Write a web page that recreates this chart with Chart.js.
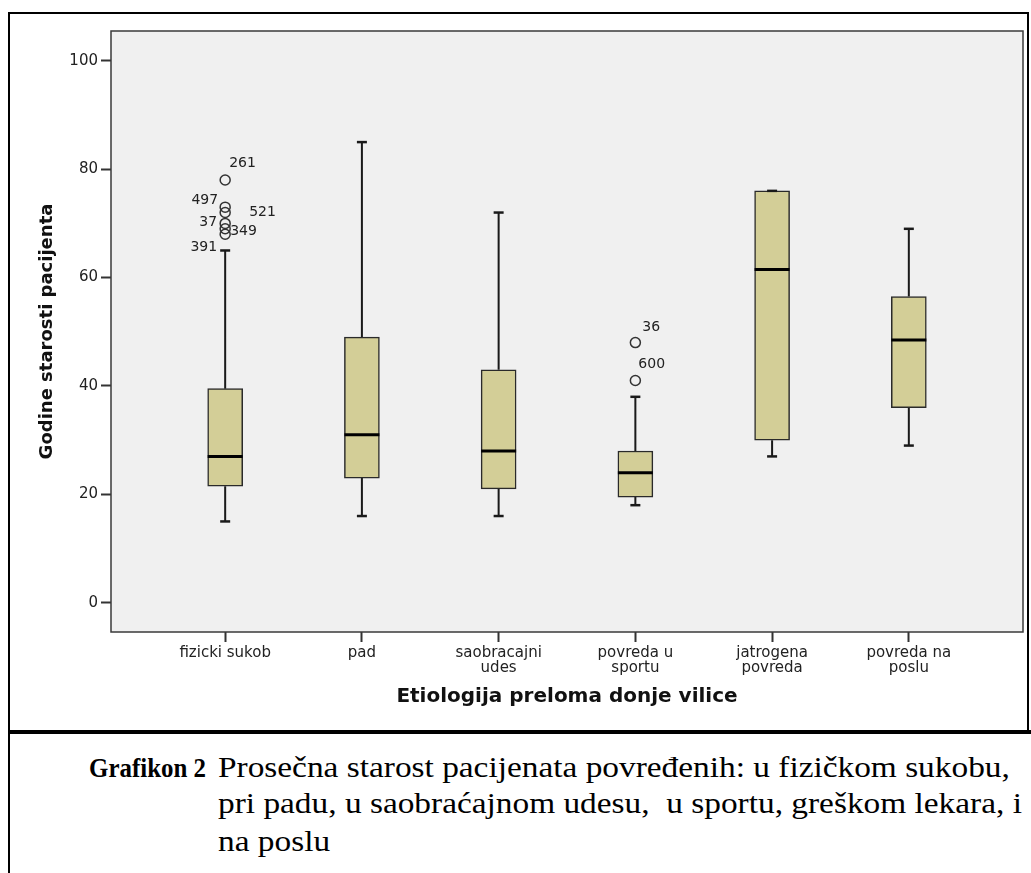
<!DOCTYPE html>
<html>
<head>
<meta charset="utf-8">
<script src="https://cdn.jsdelivr.net/npm/chart.js@4.4.1/dist/chart.umd.min.js"></script>
<style>
  body { margin: 0; background: #fff; }
  #wrap { position: relative; width: 1031px; height: 873px; overflow: hidden; }
  #frame { position: absolute; left: 8px; top: 12px; width: 1021px; height: 722px; box-sizing: border-box;
           border: 2px solid #000; border-bottom: 4px solid #000; }
  #frameLow { position: absolute; left: 8px; top: 734px; width: 2px; height: 139px; background: #000; }
  #lineRight { position: absolute; left: 1027px; top: 730px; width: 4px; height: 4px; background: #000; }
  canvas { position: absolute; left: 0; top: 0; }
  .cap { position: absolute; font-family: "Liberation Serif", "Times New Roman", serif; font-size: 29px;
         color: #000; white-space: nowrap; line-height: 1; transform: scaleX(1.15); transform-origin: 0 50%; }
  .cap.lead { font-size: 28px; font-weight: bold; transform: scaleX(0.89); }
</style>
</head>
<body>
<div id="wrap">
  <div id="frame"></div>
  <div id="frameLow"></div>
  <div id="lineRight"></div>
  <canvas id="boxChart" width="1031" height="730"></canvas>
  <div class="cap lead" style="left:89px; top:754px;">Grafikon 2</div>
  <div class="cap" style="left:218px; top:753px;">Prosečna starost pacijenata povređenih: u fizičkom sukobu,</div>
  <div class="cap" style="left:218px; top:789px;">pri padu, u saobraćajnom udesu,&nbsp; u sportu, greškom lekara, i</div>
  <div class="cap" style="left:218px; top:827px;">na poslu</div>
</div>
<script>
// categories and box statistics
const categories = ['fizicki sukob', 'pad', ['saobracajni', 'udes'], ['povreda u', 'sportu'], ['jatrogena', 'povreda'], ['povreda na', 'poslu']];
const whiskerLow = [15, 16, 16, 18, 27, 29];
const q1 = [21.5, 23, 21, 19.5, 30, 36];
const median = [27, 31, 28, 24, 61.5, 48.5];
const q3 = [39.5, 49, 43, 28, 76, 56.5];
const whiskerHigh = [65, 85, 72, 38, 76, 69];

// outliers: group number (1-based), value, case id
const outlierGroup = [1, 1, 1, 1, 1, 1, 4, 4];
const outlierValue = [78, 73, 72, 70, 69, 68, 48, 41];
const outlierId = ['261', '497', '521', '37', '349', '391', '36', '600'];

const yTicks = [0, 20, 40, 60, 80, 100];

// label placement next to each outlier circle (same order as outlierId)
const labelPos = [
  { dx: 4, dy: -17, align: 'left' },
  { dx: -7, dy: -7, align: 'right' },
  { dx: 24, dy: 0, align: 'left' },
  { dx: -8, dy: -1, align: 'right' },
  { dx: 5, dy: 3, align: 'left' },
  { dx: -8, dy: 13, align: 'right' },
  { dx: 7, dy: -15, align: 'left' },
  { dx: 3, dy: -16, align: 'left' }
];

const boxData = q1.map((v, i) => ({ x: i + 1, y: [v, q3[i]] }));
const medianData = median.map((v, i) => ({ x: i + 1, y: v }));
const capData = whiskerLow.map((v, i) => ({ x: i + 1, y: v }))
  .concat(whiskerHigh.map((v, i) => ({ x: i + 1, y: v })));
const whiskerData = [];
whiskerLow.forEach((v, i) => {
  whiskerData.push({ x: i + 1, y: v }, { x: i + 1, y: q1[i] }, { x: i + 1, y: null },
                   { x: i + 1, y: q3[i] }, { x: i + 1, y: whiskerHigh[i] }, { x: i + 1, y: null });
});
const outlierData = outlierValue.map((v, i) => ({ x: outlierGroup[i], y: v }));

const plotFrame = {
  id: 'plotFrame',
  beforeDatasetsDraw(chart) {
    const { ctx, chartArea: a } = chart;
    ctx.save();
    ctx.fillStyle = '#f0f0f0';
    ctx.fillRect(a.left, a.top, a.right - a.left, a.bottom - a.top);
    ctx.restore();
  },
  afterDatasetsDraw(chart) {
    const { ctx, chartArea: a } = chart;
    ctx.save();
    ctx.strokeStyle = '#3a3a3a';
    ctx.lineWidth = 1.5;
    ctx.strokeRect(a.left, a.top, a.right - a.left, a.bottom - a.top);
    ctx.restore();
  }
};

const outlierLabels = {
  id: 'outlierLabels',
  afterDatasetsDraw(chart) {
    const meta = chart.getDatasetMeta(4);
    const ctx = chart.ctx;
    ctx.save();
    ctx.font = '14px "DejaVu Sans"';
    ctx.fillStyle = '#222';
    ctx.textBaseline = 'middle';
    meta.data.forEach((pt, i) => {
      const p = labelPos[i];
      ctx.textAlign = p.align;
      ctx.fillText(outlierId[i], pt.x + p.dx, pt.y + p.dy);
    });
    ctx.restore();
  }
};

new Chart(document.getElementById('boxChart'), {
  type: 'bar',
  data: {
    datasets: [
      {
        type: 'line', data: whiskerData, borderColor: '#1a1a1a', borderWidth: 2,
        pointRadius: 0, spanGaps: false, order: 5
      },
      {
        type: 'bar', data: boxData, backgroundColor: '#d3ce97', borderColor: '#2a2a2a',
        borderWidth: 1.5, borderSkipped: false, barThickness: 35, grouped: false, order: 4
      },
      {
        type: 'scatter', data: medianData, pointStyle: 'line', pointRadius: 17.5,
        borderColor: '#000', pointBorderWidth: 3, order: 3
      },
      {
        type: 'scatter', data: capData, pointStyle: 'line', pointRadius: 5,
        borderColor: '#1a1a1a', pointBorderWidth: 2.5, order: 2
      },
      {
        type: 'scatter', data: outlierData, pointStyle: 'circle', pointRadius: 5,
        borderColor: '#333', backgroundColor: 'rgba(0,0,0,0)', pointBorderWidth: 1.5, order: 1
      }
    ]
  },
  options: {
    responsive: false,
    animation: false,
    events: [],
    devicePixelRatio: 1,
    layout: { autoPadding: false, padding: { top: 31, right: 8, left: 0, bottom: 0 } },
    plugins: { legend: { display: false }, tooltip: { enabled: false } },
    scales: {
      x: {
        type: 'linear',
        min: 0.165,
        max: 6.835,
        offset: false,
        afterBuildTicks: s => { s.ticks = categories.map((c, i) => ({ value: i + 1 })); },
        afterFit: s => { s.height = 98; s.paddingLeft = 0; s.paddingRight = 0; },
        ticks: {
          callback: v => categories[v - 1],
          font: { family: 'DejaVu Sans', size: 15, lineHeight: 1 },
          color: '#222', padding: 4, maxRotation: 0, autoSkip: false
        },
        grid: { drawOnChartArea: false, offset: false, tickLength: 10, tickColor: '#333', tickWidth: 2 },
        border: { display: false },
        title: {
          display: true, text: 'Etiologija preloma donje vilice', color: '#111',
          font: { family: 'DejaVu Sans', size: 20, weight: 'bold' },
          padding: { top: 0, bottom: 21 }
        }
      },
      y: {
        min: -5.4,
        max: 105.5,
        afterBuildTicks: s => { s.ticks = yTicks.map(v => ({ value: v })); },
        afterFit: s => { s.width = 111; },
        ticks: { font: { family: 'DejaVu Sans', size: 15 }, color: '#222', padding: 3 },
        grid: { drawOnChartArea: false, tickLength: 10, tickColor: '#333', tickWidth: 2 },
        border: { display: false },
        title: {
          display: true, text: 'Godine starosti pacijenta', color: '#111',
          font: { family: 'DejaVu Sans', size: 18, weight: 'bold' },
          padding: { top: 37, bottom: 0 }
        }
      }
    }
  },
  plugins: [plotFrame, outlierLabels]
});
</script>
</body>
</html>
